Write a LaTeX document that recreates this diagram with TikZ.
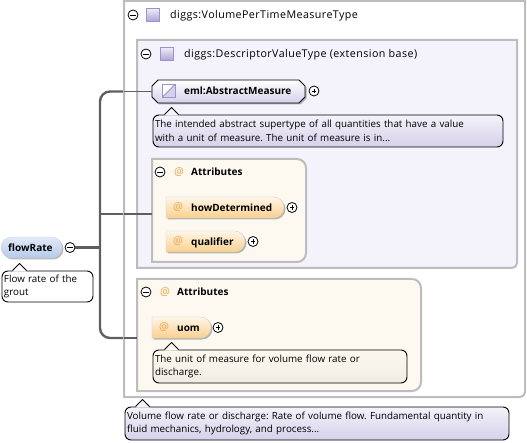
\documentclass[tikz,border=0pt]{standalone}
\usepackage{fontspec}
\setmainfont{Open Sans}
\newfontfamily\headfont[LetterSpace=4]{Open Sans}
\usetikzlibrary{
  positioning,
  shapes.misc,
  shadows
}
\definecolor{framegray}{HTML}{BDBDBD}
\definecolor{trunkgray}{HTML}{5F5F5F}
\definecolor{typefill}{HTML}{F4F2FA}
\definecolor{attrfill}{HTML}{FDF9F0}
\definecolor{lilac}{HTML}{D6D0EA}
\definecolor{lilacedge}{HTML}{9E92CC}
\definecolor{attrorange}{HTML}{FAD08E}
\definecolor{atorange}{HTML}{F0A040}
\definecolor{flowblue}{HTML}{B4CAEB}
\newcommand{\framesharp}[2]{%
  \draw[framepath, fill=#2] (#1.north west) -- (#1.north east) -- (#1.east) [rounded corners=5pt] -- (#1.south east) -- (#1.south) [sharp corners] -- (#1.south west) -- cycle;}
\newcommand{\frameattr}[1]{%
  \draw[framepath, fill=attrfill] (#1.north west) -- (#1.north) [rounded corners=9pt] -- (#1.north east) -- (#1.south east) -- (#1.south) [sharp corners] -- (#1.south west) -- cycle;}
\newcommand{\notetip}[3]{%
  \fill[#3] ([xshift=#2pt, yshift=-1pt]#1.north west) -- ++(7,-7) -- ++(7,7) -- cycle;
  \draw[line width=0.9pt, line join=round] ([xshift=#2pt]#1.north west) -- ++(7,-7) -- ++(7,7);}
\newcommand{\chamfer}[1]{%
  \draw[line width=0.9pt, line join=round, top color=white, bottom color=lilac,
        drop shadow={shadow xshift=1.5pt, shadow yshift=-1.5pt, fill=black!55}]
    ([xshift=6pt]#1.north west) -- ([xshift=-6pt]#1.north east) -- ([yshift=-6pt]#1.north east)
    -- ([yshift=6pt]#1.south east) -- ([xshift=-6pt]#1.south east) -- ([xshift=6pt]#1.south west)
    -- ([yshift=6pt]#1.south west) -- ([yshift=-6pt]#1.north west) -- cycle;}

\begin{document}
\begin{tikzpicture}[
  x=1pt, y=-1pt,
  framebox/.style={rectangle, inner sep=0pt, outer sep=0pt},
  framepath/.style={draw=framegray, line width=2pt},
  pill/.style={rounded rectangle, draw=black!18, line width=0.4pt, inner sep=0pt,
               minimum height=21pt, drop shadow={shadow xshift=1.5pt, shadow yshift=-1.5pt, fill=black!55}},
  attrpill/.style={pill, rounded rectangle west arc=none, top color=attrorange!20!white, bottom color=attrorange},
  note/.style={draw, rounded corners=6pt, line width=0.9pt, inner sep=2pt, align=left,
               font=\fontsize{9.8}{13.5}\selectfont\frenchspacing},
  heading/.style={anchor=west, inner sep=0pt, text height=8.5pt, text depth=0.5pt, font=\headfont\fontsize{10.7}{13}\selectfont},
  namelabel/.style={heading, font=\fontsize{10}{13}\selectfont\bfseries},
  atmark/.style={inner sep=0pt, text=atorange, font=\fontsize{11}{13}\selectfont},
  typeicon/.style={rectangle, draw=lilacedge, line width=1pt, minimum size=13pt, inner sep=0pt,
                   top color=lilac!40!white, bottom color=lilacedge!85},
  hrule/.style={rectangle, inner sep=0pt, minimum height=2pt, left color=#1, middle color=black!18, right color=#1},
  toggle/.style={circle, draw, line width=0.8pt, fill=white, minimum size=10pt, inner sep=0pt},
  minus/.style={toggle, path picture={\draw[line width=0.8pt]
      ([xshift=-2.8pt]path picture bounding box.center) -- ([xshift=2.8pt]path picture bounding box.center);}},
  plus/.style={toggle, path picture={\draw[line width=0.7pt]
      ([xshift=-2.4pt]path picture bounding box.center) -- ([xshift=2.4pt]path picture bounding box.center)
      ([yshift=-2.4pt]path picture bounding box.center) -- ([yshift=2.4pt]path picture bounding box.center);}},
  trunk/.style={trunkgray, line width=2.4pt},
  branch/.style={trunkgray, line width=1.3pt},
]
  \useasboundingbox (0,0) rectangle (527,443);

  % root element and its trunk
  \node[framebox, minimum width=401pt, minimum height=396pt] (outerBox) at (324.5,199) {};
  \node[pill, top color=flowblue!40!white, bottom color=flowblue, minimum width=61pt] (flowRate) at (31.5,247.5) {};
  \node[namelabel] (flowLabel) at (8,247.5) {flowRate};
  \node[minus] (flowToggle) at (70,247.5) {};
  \coordinate (trunkMid) at (100,247.5);
  \coordinate (tapEml) at (outerBox.west |- 0,91.5);
  \coordinate (tapAttrs) at (outerBox.west |- 0,214);
  \coordinate (tapUom) at (outerBox.west |- 0,338);
  \draw[trunk, rounded corners=10pt] (tapEml) -| (trunkMid) |- (tapUom);
  \draw[trunk] (flowToggle) -- (trunkMid);
  \draw[trunk] (trunkMid |- tapAttrs) -- (tapAttrs);

  \node[note, fill=white, text width=87pt, minimum height=31pt] (flowNote) at (47.5,286.5) {Flow rate of the\\grout};
  \notetip{flowNote}{11}{white}

  % extension type frames
  \framesharp{outerBox}{white}
  \node[minus] (outerToggle) at (133,15) {};
  \node[typeicon] (outerIcon) at (153,15) {};
  \node[heading] (outerTitle) at (170,15) {diggs:VolumePerTimeMeasureType};
  \node[hrule=white, minimum width=297pt] (outerRule) at (276.5,29) {};

  \node[framebox, minimum width=380pt, minimum height=228pt] (baseBox) at (327,154) {};
  \framesharp{baseBox}{typefill}
  \node[minus] (baseToggle) at (146,54) {};
  \node[typeicon] (baseIcon) at (167,54) {};
  \node[heading] (baseTitle) at (184,54) {diggs:DescriptorValueType (extension base)};
  \node[hrule=typefill, minimum width=285pt] (baseRule) at (282.5,68) {};

  % abstract measure
  \node[framebox, minimum width=153pt, minimum height=23pt] (eml) at (228.5,91.5) {};
  \chamfer{eml}
  \node[typeicon, top color=white, bottom color=white, path picture={
      \fill[lilac] (path picture bounding box.south west) -- (path picture bounding box.north east) -- (path picture bounding box.south east) -- cycle;
      \draw[lilacedge, line width=0.8pt] (path picture bounding box.south west) -- (path picture bounding box.north east);}] (emlIcon) at (168.5,91) {};
  \node[namelabel] (emlLabel) at (184,91) {eml:AbstractMeasure};
  \node[plus] (emlPlus) at (314,91) {};
  \node[note, top color=typefill, bottom color=lilac, text width=346pt, minimum height=32pt] (emlNote) at (328,131) {The intended abstract supertype of all quantities that have a value\\with a unit of measure. The unit of measure is in...};
  \notetip{emlNote}{12}{typefill}

  % attributes of the base type
  \node[framebox, minimum width=154pt, minimum height=103pt] (attrsBase) at (229,210.5) {};
  \frameattr{attrsBase}
  \node[minus] (attrsBaseToggle) at (160,172) {};
  \node[atmark] (attrsBaseAt) at (179,172) {@};
  \node[namelabel] (attrsBaseTitle) at (191,172) {Attributes};
  \node[hrule=attrfill, minimum width=115pt] (attrsBaseRule) at (212.5,186) {};

  \node[attrpill, minimum width=118pt] (howDetermined) at (225,207.5) {};
  \node[atmark] (howAt) at (178,207.5) {@};
  \node[namelabel] (howLabel) at (191,207.5) {howDetermined};
  \node[plus] (howPlus) at (292,207.5) {};

  \node[attrpill, minimum width=79pt] (qualifier) at (205.5,241.5) {};
  \node[atmark] (qualAt) at (178,241.5) {@};
  \node[namelabel] (qualLabel) at (191,241.5) {qualifier};
  \node[plus] (qualPlus) at (253,241.5) {};

  % attributes of the extension
  \node[framebox, minimum width=284pt, minimum height=112pt] (attrsExt) at (279,335) {};
  \frameattr{attrsExt}
  \node[minus] (attrsExtToggle) at (146,292) {};
  \node[atmark] (attrsExtAt) at (165,292) {@};
  \node[namelabel] (attrsExtTitle) at (177,292) {Attributes};
  \node[hrule=attrfill, minimum width=210pt] (attrsExtRule) at (245,306) {};

  \node[attrpill, minimum width=59pt] (uom) at (181.5,327.5) {};
  \node[atmark] (uomAt) at (164,327.5) {@};
  \node[namelabel] (uomLabel) at (177,327.5) {uom};
  \node[plus] (uomPlus) at (218,327.5) {};
  \node[note, top color=attrfill, bottom color=attrfill!95!black, text width=250pt, minimum height=33pt] (uomNote) at (280,366.5) {The unit of measure for volume flow rate or\\discharge.};
  \notetip{uomNote}{12}{attrfill}

  \node[note, top color=typefill, bottom color=lilac, text width=380pt, minimum height=33pt] (mainNote) at (317,423.5) {Volume flow rate or discharge: Rate of volume flow. Fundamental quantity in\\fluid mechanics, hydrology, and process...};
  \notetip{mainNote}{11}{typefill}

  % branches inside the frame
  \draw[branch] (tapEml) -- (eml.west);
  \draw[branch] (tapAttrs) -- (attrsBase.west |- tapAttrs);
  \draw[branch] (tapUom) -- (attrsExt.west |- tapUom);
\end{tikzpicture}
\end{document}
